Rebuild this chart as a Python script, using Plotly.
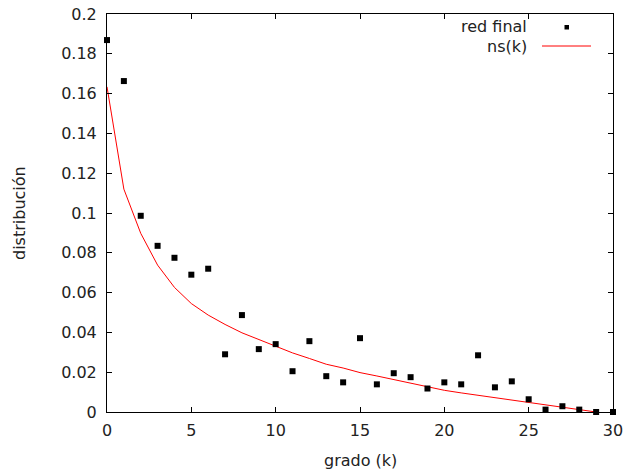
import plotly.graph_objects as go

k_vals = list(range(0, 31))
red_final = [0.1869, 0.1663, 0.0986, 0.0835, 0.0775, 0.0690, 0.0720, 0.0290, 0.0487, 0.0316,
             0.0341, 0.0205, 0.0356, 0.0180, 0.0149, 0.0371, 0.0139, 0.0195, 0.0175, 0.0118,
             0.0149, 0.0139, 0.0285, 0.0124, 0.0154, 0.0064, 0.0012, 0.0029, 0.0012, 0.0, 0.0]
ns_k = list(range(0, 30))
ns_vals = [0.1634, 0.1120, 0.0898, 0.0738, 0.0626, 0.0545, 0.0487, 0.0440, 0.0398, 0.0364,
           0.0332, 0.0297, 0.0269, 0.0240, 0.0221, 0.0198, 0.0181, 0.0163, 0.0146, 0.0126,
           0.0109, 0.0096, 0.0084, 0.0070, 0.0059, 0.0045, 0.0034, 0.0022, 0.0009, 0.0]
x_ticks = [0, 5, 10, 15, 20, 25, 30]
y_ticks = [0, 0.02, 0.04, 0.06, 0.08, 0.1, 0.12, 0.14, 0.16, 0.18, 0.2]
y_ticktext = ["0", "0.02", "0.04", "0.06", "0.08", "0.1", "0.12", "0.14", "0.16", "0.18", "0.2"]

FONT = "DejaVu Sans"
FS = 16
TXT = "#222"
W, H = 623, 474
ML, MR, MT, MB = 107, 10, 14, 62
pw, ph = W - ML - MR, H - MT - MB

def px_to_paper(xp, yp):
    return (xp - ML) / pw, (H - MB - yp) / ph

fig = go.Figure()
fig.add_trace(go.Scatter(x=ns_k, y=ns_vals, mode="lines", name="ns(k)",
                         line=dict(color="#ff0000", width=1), cliponaxis=False))
fig.add_trace(go.Scatter(x=k_vals, y=red_final, mode="markers", name="red final",
                         marker=dict(symbol="square", size=6, color="black"), cliponaxis=False))

axis_common = dict(showline=True, linecolor="black", linewidth=1, mirror="ticks",
                   ticks="inside", ticklen=5, tickwidth=1, tickcolor="black",
                   showgrid=False, zeroline=False, automargin=False,
                   ticklabeloverflow="allow",
                   tickfont=dict(family=FONT, size=FS, color=TXT))
fig.update_xaxes(range=[0, 30], tickvals=x_ticks, ticklabelstandoff=4, **axis_common)
fig.update_yaxes(range=[0, 0.2], tickvals=y_ticks, ticktext=y_ticktext, ticklabelstandoff=6, **axis_common)

fig.update_layout(
    width=W, height=H,
    margin=dict(l=ML, r=MR, t=MT, b=MB),
    paper_bgcolor="white", plot_bgcolor="white",
    showlegend=False,
    font=dict(family=FONT, size=FS, color=TXT),
)

# axis titles
ax, ay = px_to_paper(360, 460)
fig.add_annotation(x=ax, y=ay, xref="paper", yref="paper", text="grado (k)", showarrow=False,
                   xanchor="center", yanchor="middle", font=dict(family=FONT, size=FS, color=TXT))
ax, ay = px_to_paper(19, 213)
fig.add_annotation(x=ax, y=ay, xref="paper", yref="paper", text="distribución", showarrow=False,
                   textangle=-90, xanchor="center", yanchor="middle",
                   font=dict(family=FONT, size=FS, color=TXT))

# legend drawn gnuplot-style (text left of sample)
ax, ay = px_to_paper(529, 27)
fig.add_annotation(x=ax, y=ay, xref="paper", yref="paper", text="red final", showarrow=False,
                   xanchor="right", yanchor="middle", font=dict(family=FONT, size=FS, color=TXT))
ax, ay = px_to_paper(529, 46)
fig.add_annotation(x=ax, y=ay, xref="paper", yref="paper", text="ns(k)", showarrow=False,
                   xanchor="right", yanchor="middle", font=dict(family=FONT, size=FS, color=TXT))
x0, y0 = px_to_paper(542, 46)
x1, _ = px_to_paper(591, 46)
fig.add_shape(type="line", xref="paper", yref="paper", x0=x0, x1=x1, y0=y0, y1=y0,
              line=dict(color="#ff0000", width=1))
sx0, sy0 = px_to_paper(564.5, 29.5)
sx1, sy1 = px_to_paper(569, 25)
fig.add_shape(type="rect", xref="paper", yref="paper", x0=sx0, x1=sx1, y0=sy0, y1=sy1,
              line=dict(width=0), fillcolor="black")

fig.write_html("out.html")
